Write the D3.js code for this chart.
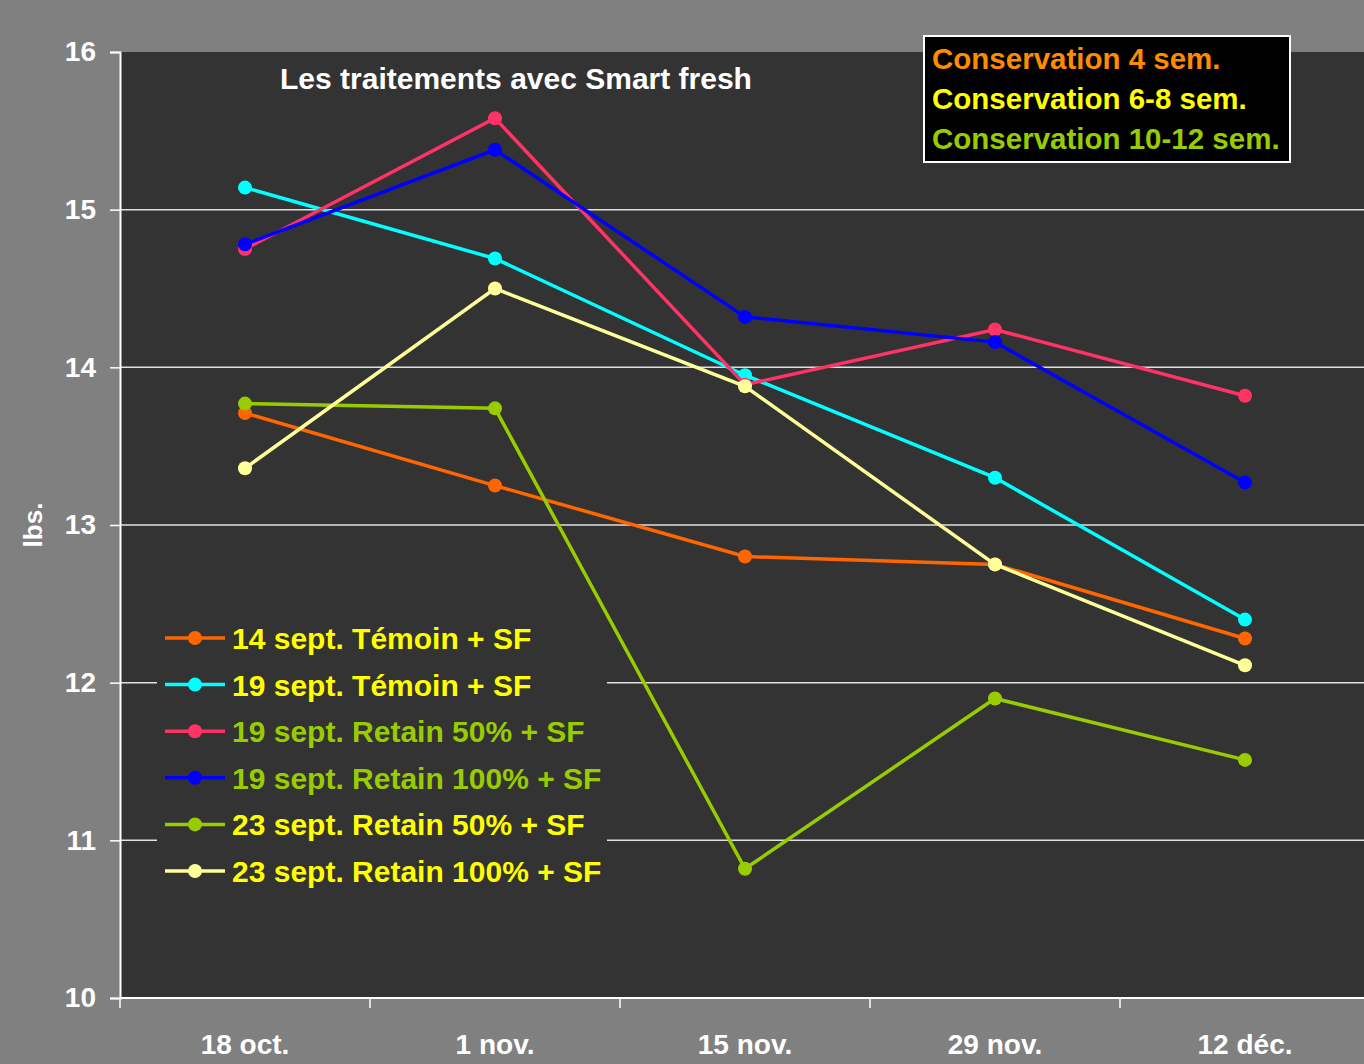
<!DOCTYPE html>
<html lang="fr">
<head>
<meta charset="utf-8">
<title>Les traitements avec Smart fresh</title>
<script src="https://cdn.jsdelivr.net/npm/d3@7"></script>
<style>
  html, body { margin: 0; padding: 0; background: #808080; }
  svg { display: block; font-family: "Liberation Sans", Arial, sans-serif; font-weight: bold; }
</style>
</head>
<body>
<script>
// categories (dates)
var dates = ["18 oct.", "1 nov.", "15 nov.", "29 nov.", "12 déc."];
var yTicks = [10, 11, 12, 13, 14, 15, 16];

// series values (lbs.)
var seriesNames = [
  "14 sept. Témoin + SF",
  "19 sept. Témoin + SF",
  "19 sept. Retain 50% + SF",
  "19 sept. Retain 100% + SF",
  "23 sept. Retain 50% + SF",
  "23 sept. Retain 100% + SF"
];
var temoin14 = [13.71, 13.25, 12.80, 12.75, 12.28];
var temoin19 = [15.14, 14.69, 13.95, 13.30, 12.40];
var retain50_19 = [14.75, 15.58, 13.89, 14.24, 13.82];
var retain100_19 = [14.78, 15.38, 14.32, 14.16, 13.27];
var retain50_23 = [13.77, 13.74, 10.82, 11.90, 11.51];
var retain100_23 = [13.36, 14.50, 13.88, 12.75, 12.11];

var lineColors = ["#FF6600", "#00FFFF", "#FF3366", "#0000FF", "#99CC00", "#FFFF99"];
var labelColors = ["#FFFF00", "#FFFF00", "#99CC00", "#99CC00", "#FFFF00", "#FFFF00"];

var boxLabels = ["Conservation 4 sem.", "Conservation 6-8 sem.", "Conservation 10-12 sem."];
var boxColors = ["#FF8C00", "#FFFF00", "#99CC00"];

var allSeries = [temoin14, temoin19, retain50_19, retain100_19, retain50_23, retain100_23];

var chartW = 1364, chartH = 1064;
var plotLeft = 120, plotTop = 52, plotBottom = 998;

var svg = d3.select("body").append("svg")
  .attr("width", chartW)
  .attr("height", chartH);

// plot area background
svg.append("rect")
  .attr("x", plotLeft).attr("y", plotTop)
  .attr("width", chartW - plotLeft).attr("height", plotBottom - plotTop)
  .attr("fill", "#333333");

var x = d3.scaleBand().domain(dates).range([plotLeft, plotLeft + 5 * 250]);
var y = d3.scaleLinear().domain([10, 16]).range([plotBottom, plotTop]);

// gridlines
svg.append("g")
  .selectAll("line")
  .data(yTicks.slice(1, -1))
  .enter()
  .append("line")
  .attr("x1", plotLeft).attr("x2", chartW)
  .attr("y1", function(d) { return y(d); })
  .attr("y2", function(d) { return y(d); })
  .attr("stroke", "#e0e0e0")
  .attr("stroke-width", 1.5);

// y axis
var yAxis = svg.append("g")
  .attr("transform", "translate(" + plotLeft + ",0)")
  .call(d3.axisLeft(y).tickValues(yTicks).tickSize(10).tickPadding(14).tickFormat(d3.format("d")));
yAxis.select(".domain").attr("stroke", "#fff").attr("stroke-width", 2);
yAxis.selectAll(".tick line").attr("stroke", "#fff").attr("stroke-width", 1.5);
yAxis.selectAll("text")
  .attr("fill", "#fff")
  .attr("font-size", 28)
  .attr("font-family", "Liberation Sans, Arial, sans-serif")
  .attr("font-weight", "bold");

// x axis
var xAxis = svg.append("g")
  .attr("transform", "translate(0," + plotBottom + ")")
  .call(d3.axisBottom(x).tickSize(0).tickPadding(36));
xAxis.select(".domain").attr("stroke", "#fff").attr("stroke-width", 2).attr("d", "M" + plotLeft + ",0H" + chartW);
xAxis.selectAll("text")
  .attr("fill", "#fff")
  .attr("font-size", 28)
  .attr("font-family", "Liberation Sans, Arial, sans-serif")
  .attr("font-weight", "bold");
// tick marks at category boundaries
xAxis.append("g")
  .selectAll("line")
  .data(dates)
  .enter()
  .append("line")
  .attr("x1", function(d) { return x(d); })
  .attr("x2", function(d) { return x(d); })
  .attr("y1", 0).attr("y2", 10)
  .attr("stroke", "#fff")
  .attr("stroke-width", 1.5);

// y axis title
svg.append("text")
  .attr("transform", "translate(42," + y(13) + ") rotate(-90)")
  .attr("text-anchor", "middle")
  .attr("fill", "#fff")
  .attr("font-size", 26)
  .text("lbs.");

// legend (bottom left, covers gridlines)
var legend = svg.append("g");
legend.append("rect")
  .attr("x", 157).attr("y", 614)
  .attr("width", 450).attr("height", 278)
  .attr("fill", "#333333");

var legendY = d3.scalePoint().domain(seriesNames).range([638, 871]);
var rows = legend.selectAll("g.row")
  .data(seriesNames)
  .enter()
  .append("g")
  .attr("class", "row")
  .attr("transform", function(d) { return "translate(0," + legendY(d) + ")"; });
rows.append("line")
  .attr("x1", 165).attr("x2", 225)
  .attr("stroke", function(d, i) { return lineColors[i]; })
  .attr("stroke-width", 3.5);
rows.append("circle")
  .attr("cx", 195).attr("r", 7)
  .attr("fill", function(d, i) { return lineColors[i]; });
rows.append("text")
  .attr("x", 232).attr("y", 11)
  .attr("font-size", 30)
  .attr("fill", function(d, i) { return labelColors[i]; })
  .text(function(d) { return d; });

// lines and markers
var cx = function(d, i) { return x(dates[i]) + x.bandwidth() / 2; };
var line = d3.line()
  .x(cx)
  .y(function(d) { return y(d); });

var groups = svg.append("g")
  .selectAll("g")
  .data(allSeries)
  .enter()
  .append("g");
groups.append("path")
  .attr("d", function(d) { return line(d); })
  .attr("fill", "none")
  .attr("stroke", function(d, i) { return lineColors[i]; })
  .attr("stroke-width", 3.5);
groups.each(function(s, k) {
  d3.select(this).selectAll("circle")
    .data(s)
    .enter()
    .append("circle")
    .attr("cx", cx)
    .attr("cy", function(d) { return y(d); })
    .attr("r", 7)
    .attr("fill", lineColors[k]);
});

// title
svg.append("text")
  .attr("x", 516).attr("y", 89)
  .attr("text-anchor", "middle")
  .attr("fill", "#fff")
  .attr("font-size", 30)
  .text("Les traitements avec Smart fresh");

// conservation box
svg.append("rect")
  .attr("x", 924).attr("y", 36)
  .attr("width", 366).attr("height", 126)
  .attr("fill", "#000")
  .attr("stroke", "#fff")
  .attr("stroke-width", 2);
svg.append("g")
  .selectAll("text")
  .data(boxLabels)
  .enter()
  .append("text")
  .attr("x", 932)
  .attr("y", function(d, i) { return 69 + i * 40; })
  .attr("font-size", 29.5)
  .attr("fill", function(d, i) { return boxColors[i]; })
  .text(function(d) { return d; });
</script>
</body>
</html>
